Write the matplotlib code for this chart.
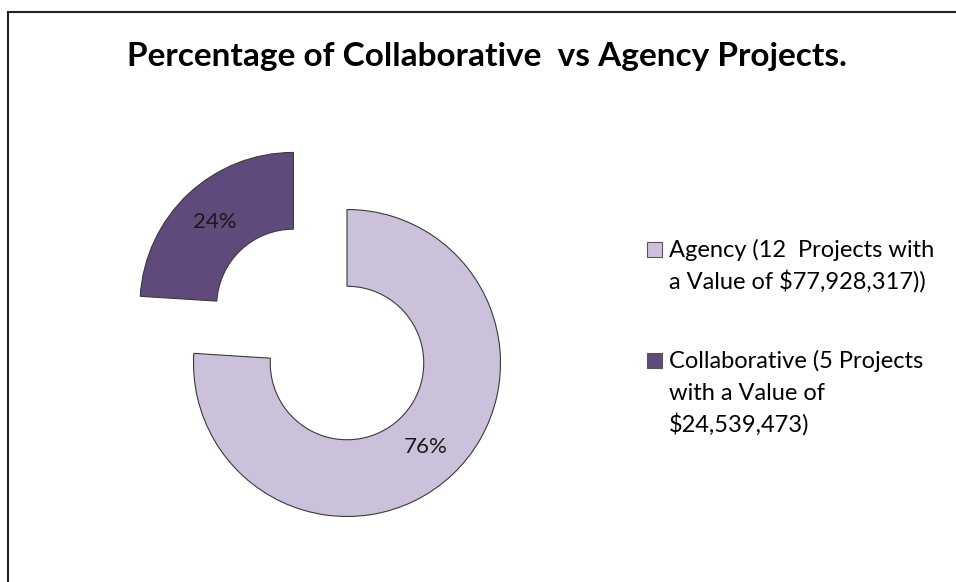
import matplotlib.pyplot as plt
from matplotlib.patches import Rectangle
from matplotlib.lines import Line2D

plt.rcParams['font.family'] = ['Lato', 'DejaVu Sans']

TITLE      = 'Percentage of Collaborative  vs Agency Projects.'
CATEGORIES = ['Agency', 'Collaborative']
SHARES     = [76, 24]
LEGEND     = ['Agency (12  Projects with\na Value of $77,928,317))',
              'Collaborative (5 Projects\nwith a Value of\n$24,539,473)']
COLORS     = ['#CCC1DA', '#604A7B']
EXPLODE    = [0, 0.51]

W, H = 956, 582
fig = plt.figure(figsize=(W / 100, H / 100), dpi=100)
fig.patch.set_facecolor('white')


def fx(px):
    return px / W


def fy(px):
    return 1 - px / H


# outer frame (only top and left edges are visible)
fig.add_artist(Line2D([fx(8), fx(8)], [0, fy(12)], color='#222222', lw=1.5))
fig.add_artist(Line2D([fx(8), 1], [fy(12), fy(12)], color='#222222', lw=1.5))

fig.text(fx(487), fy(66), TITLE, ha='center', va='baseline',
         fontsize=24, fontweight='bold', color='black')

# donut: centre at (347, 363) px, outer radius ~153.5 px
S = 480
cx, cy = 347, H - 363
ax = fig.add_axes([(cx - S / 2) / W, (cy - S / 2) / H, S / W, S / H])
lim = S / 2 / 153.5
wedges, _, autotexts = ax.pie(
    SHARES, colors=COLORS, explode=EXPLODE, startangle=90, counterclock=False,
    radius=1, autopct=lambda p: f'{p:.0f}%', pctdistance=0.75,
    wedgeprops=dict(width=0.5, edgecolor='#3a3a3a', linewidth=0.8),
    textprops=dict(fontsize=16, color='#1a1a1a'))
ax.set_xlim(-lim, lim)
ax.set_ylim(-lim, lim)
ax.set_aspect('equal')
ax.axis('off')

# legend drawn by hand so the swatch sits on the first text line
first_baselines = [257, 368]
line_gap = 32
for base, label, color in zip(first_baselines, LEGEND, COLORS):
    fig.add_artist(Rectangle((fx(647), fy(base)), 15 / W, 15 / H,
                             facecolor=color, edgecolor='#555555', lw=0.8))
    for i, line in enumerate(label.split('\n')):
        fig.text(fx(669), fy(base + i * line_gap), line, ha='left',
                 va='baseline', fontsize=17, color='black')

fig.savefig('out.png', dpi=100)
